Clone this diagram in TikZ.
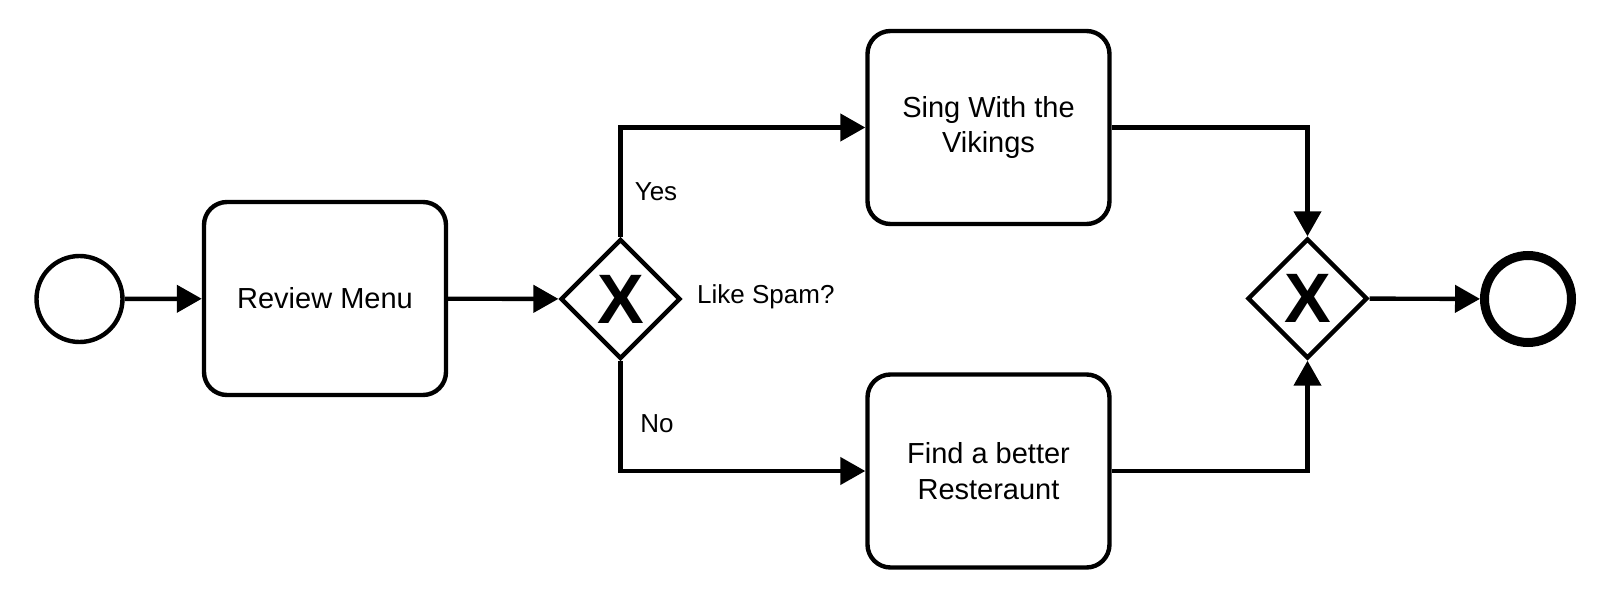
\documentclass[tikz,border=0pt]{standalone}
\usepackage{fontspec}
\setmainfont{Liberation Sans}
\usetikzlibrary{arrows.meta,shapes.geometric}

\begin{document}
\begin{tikzpicture}[x=0.5pt, y=-0.5pt, line width=2.2pt,
  task/.style={draw, rounded corners=11.5pt, minimum width=121pt, minimum height=96.5pt,
    align=center, font=\fontsize{14.5}{17.7}\selectfont},
  gateway/.style={draw, diamond, minimum size=60pt, inner sep=0pt,
    font=\fontsize{35}{35}\selectfont\bfseries},
  flow/.style={-{Triangle[length=12.5pt,width=13.5pt]}},
  lbl/.style={font=\fontsize{13}{15}\selectfont, inner sep=0pt}]

\useasboundingbox (0,0) rectangle (1603,599);

%events
\node[draw, circle, minimum size=43pt] (start) at (79.5,299) {};
\node[draw, circle, minimum size=43.5pt, line width=4.5pt] (stop) at (1528,299) {};

%tasks
\node[task] (review) at (325,298.5) {Review Menu};
\node[task] (sing) at (988.5,127.5) {Sing With the\\Vikings};
\node[task] (find) at (988.5,471) {Find a better\\Resteraunt};

%gateways
\node[gateway] (split) at (620.5,299) {X};
\node[gateway] (merge) at (1307.5,298.5) {X};

%labels
\node[lbl] (yes) at (656,192) {Yes};
\node[lbl] (no) at (657,424) {No};
\node[lbl, anchor=west] (ask) at (695,297) {Like Spam?};

%flows
\draw[flow] (start) -- (review);
\draw[flow] (review) -- (split);
\draw[flow] (split.north) |- (sing.west);
\draw[flow] (split.south) |- (find.west);
\draw[flow] (sing.east) -| (merge.north);
\draw[flow] (find.east) -| (merge.south);
\draw[flow] (merge) -- (stop);

\end{tikzpicture}
\end{document}
